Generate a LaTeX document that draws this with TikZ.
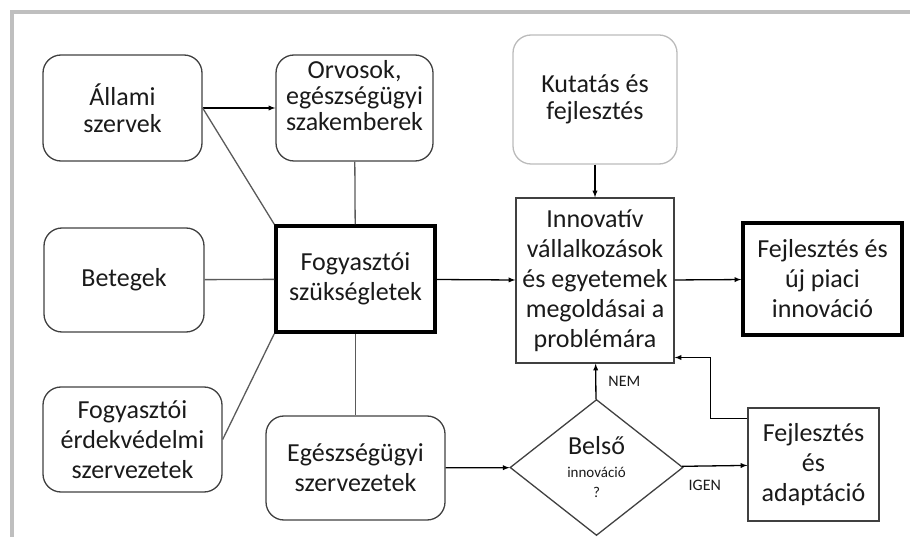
\documentclass[tikz,border=0pt]{standalone}
\usepackage{fontspec}
\setmainfont{Carlito}
\usetikzlibrary{shapes.geometric}
\definecolor{framegray}{HTML}{BFBFBF}
\definecolor{boxgray}{HTML}{404040}
\definecolor{linegray}{HTML}{5A5A5A}
\definecolor{textgray}{HTML}{1A1A1A}
\definecolor{softgray}{HTML}{BBBBBB}
\tikzset{
  box/.style={draw=boxgray, line width=1.3pt, align=center, inner sep=0pt,
    text=textgray, font=\fontsize{26}{30}\selectfont},
  roundbox/.style={box, rounded corners=18pt},
  thickbox/.style={box, draw=black, line width=3.5pt},
  link/.style={draw=linegray, line width=1.3pt},
  arr/.style={-latex, line width=1.3pt},
  lbl/.style={inner sep=0pt, text=textgray, font=\fontsize{16}{19}\selectfont},
}
\begin{document}
\begin{tikzpicture}[x=1pt,y=-1pt]
\useasboundingbox (0,0) rectangle (910,537);
% keret
\draw[framegray, line width=4pt] (12,537) -- (12,12) -- (910,12);

% bal oldal
\node[roundbox, minimum width=159pt, minimum height=106pt] (allami) at (122.5,108) {Állami\\[-3pt]szervek};
\node[roundbox, minimum width=157pt, minimum height=106pt] (orvosok) at (354.5,108) {Orvosok,\\[-4pt]egészségügyi\\[-4pt]szakemberek\\[-4pt]~};
\node[roundbox, minimum width=160pt, minimum height=104pt] (betegek) at (124,280) {Betegek};
\node[roundbox, minimum width=179pt, minimum height=105pt] (erdek) at (132.5,439.5) {Fogyasztói\\érdekvédelmi\\szervezetek};
\node[roundbox, minimum width=179pt, minimum height=104pt] (egeszseg) at (355.5,468) {Egészségügyi\\szervezetek};
\node[thickbox, minimum width=159pt, minimum height=106pt] (igeny) at (355.5,279) {Fogyasztói\\szükségletek};

% jobb oldal
\node[roundbox, draw=softgray, minimum width=164pt, minimum height=129pt] (kutatas) at (595,99.5) {Kutatás és\\[-3pt]fejlesztés};
\node[box, minimum width=158pt, minimum height=165pt] (innov) at (595,280.5) {Innovatív\\vállalkozások\\és egyetemek\\megoldásai a\\problémára};
\node[thickbox, minimum width=159pt, minimum height=112pt] (piaci) at (822.5,279) {Fejlesztés és\\új piaci\\innováció};
\node[box, shape=diamond, minimum width=173pt, minimum height=136pt] (belso) at (596.5,467.5)
  {Belső\\[-7pt]{\fontsize{15}{18}\selectfont innováció}\\[-10pt]{\fontsize{15}{18}\selectfont ?}};
\node[box, minimum width=131pt, minimum height=113pt] (adapt) at (813.5,464.5) {Fejlesztés\\és\\adaptáció};

% kapcsolatok
\draw[arr] (allami) -- (orvosok);
\draw[link] (allami.east) -- (igeny.north west);
\draw[link] (orvosok) -- (igeny);
\draw[link] (betegek) -- (igeny);
\draw[link] (igeny.south west) -- (erdek.east);
\draw[link] (igeny) -- (egeszseg);
\draw[arr] (igeny) -- (innov);
\draw[arr] (kutatas) -- (innov);
\draw[arr] (innov) -- (piaci);
\draw[arr] (egeszseg) -- (belso);
\draw[arr] (belso) -- (innov) node[lbl, midway, right=12pt] {NEM};
\draw[arr] (belso) -- (adapt) node[lbl, midway, below=14pt, xshift=-10pt] {IGEN};
\draw[arr] ([yshift=-11pt]adapt.north west) -- ++(-37,0) |- ([yshift=-77pt]innov.east);
\end{tikzpicture}
\end{document}
